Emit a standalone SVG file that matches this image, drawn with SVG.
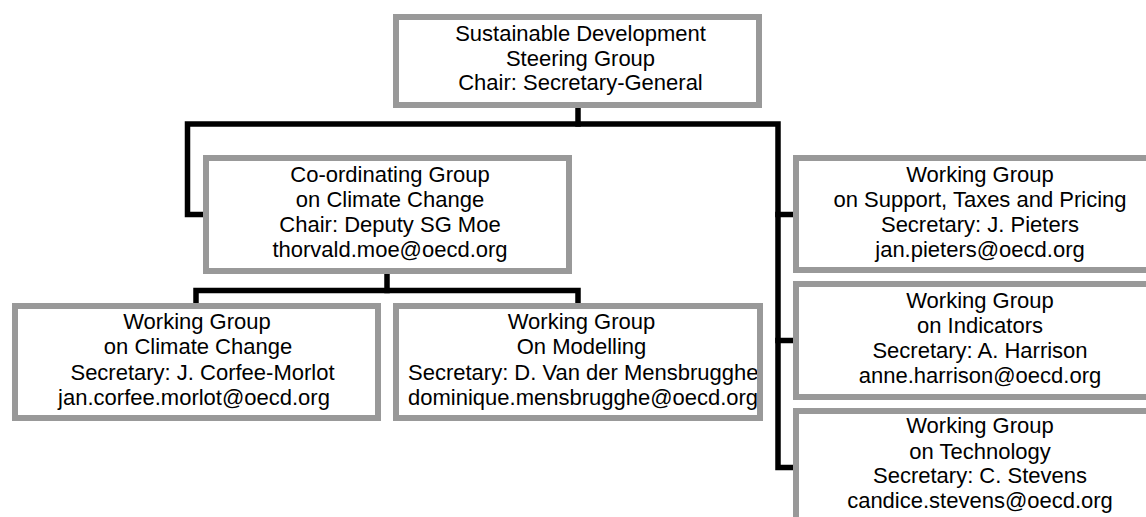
<svg xmlns="http://www.w3.org/2000/svg" width="1146" height="517" viewBox="0 0 1146 517">
<style>
.box{fill:#fff;stroke:#999;stroke-width:6}
.frame{fill:none;stroke:#999;stroke-width:6}
.t{font-family:"Liberation Sans",Arial,sans-serif;font-size:22px;fill:#000;text-anchor:middle}
.ts{text-anchor:start}
.c{fill:none;stroke:#000;stroke-width:5.5;stroke-linecap:square;stroke-linejoin:miter}
</style>
<defs>
<clipPath id="clipMod"><rect x="399" y="309" width="358" height="106"/></clipPath>
</defs>
<rect width="1146" height="517" fill="#fff"/>
<g id="connectors">
<polyline class="c" points="578,109 578,124"/>
<polyline class="c" points="203,214.5 187.5,214.5 187.5,124 778,124 778,467.5 792,467.5"/>
<polyline class="c" points="778,214.5 792,214.5"/>
<polyline class="c" points="778,340.5 792,340.5"/>
<polyline class="c" points="387,275 387,290.5"/>
<polyline class="c" points="196,302 196,290.5 578,290.5 578,302"/>
</g>
<g id="steering">
<rect class="box" x="396" y="17" width="363" height="88"/>
<text class="t" x="580.5" y="41">Sustainable Development</text>
<text class="t" x="580.5" y="65.5">Steering Group</text>
<text class="t" x="580.5" y="90">Chair: Secretary-General</text>
</g>
<g id="coordinating">
<rect class="box" x="206" y="158" width="363" height="113"/>
<text class="t" x="390" y="182">Co-ordinating Group</text>
<text class="t" x="390" y="207">on Climate Change</text>
<text class="t" x="390" y="232">Chair: Deputy SG Moe</text>
<text class="t" x="390" y="257">thorvald.moe@oecd.org</text>
</g>
<g id="wg-climate">
<rect class="box" x="15" y="306" width="363" height="112"/>
<text class="t" x="197" y="329">Working Group</text>
<text class="t" x="198" y="354">on Climate Change</text>
<text class="t" x="202.5" y="379.5">Secretary: J. Corfee-Morlot</text>
<text class="t" x="194" y="404.5">jan.corfee.morlot@oecd.org</text>
</g>
<g id="wg-modelling">
<rect x="396" y="306" width="364" height="112" fill="#fff"/>
<g clip-path="url(#clipMod)">
<text class="t" x="581.5" y="329">Working Group</text>
<text class="t" x="581.5" y="354">On Modelling</text>
<text class="t ts" x="408" y="379.5">Secretary: D. Van der Mensbrugghe</text>
<text class="t ts" x="408" y="404.5">dominique.mensbrugghe@oecd.org</text>
</g>
<rect class="frame" x="396" y="306" width="364" height="112"/>
</g>
<g id="wg-support">
<rect class="box" x="796" y="158" width="400" height="112"/>
<text class="t" x="980" y="182">Working Group</text>
<text class="t" x="980" y="207">on Support, Taxes and Pricing</text>
<text class="t" x="980" y="232">Secretary: J. Pieters</text>
<text class="t" x="980" y="257">jan.pieters@oecd.org</text>
</g>
<g id="wg-indicators">
<rect class="box" x="796" y="284" width="400" height="113"/>
<text class="t" x="980" y="308">Working Group</text>
<text class="t" x="980" y="333">on Indicators</text>
<text class="t" x="980" y="358">Secretary: A. Harrison</text>
<text class="t" x="980" y="383">anne.harrison@oecd.org</text>
</g>
<g id="wg-technology">
<rect class="box" x="796" y="411" width="400" height="200"/>
<text class="t" x="980" y="433">Working Group</text>
<text class="t" x="980" y="458.5">on Technology</text>
<text class="t" x="980" y="483">Secretary: C. Stevens</text>
<text class="t" x="980" y="508">candice.stevens@oecd.org</text>
</g>
</svg>
